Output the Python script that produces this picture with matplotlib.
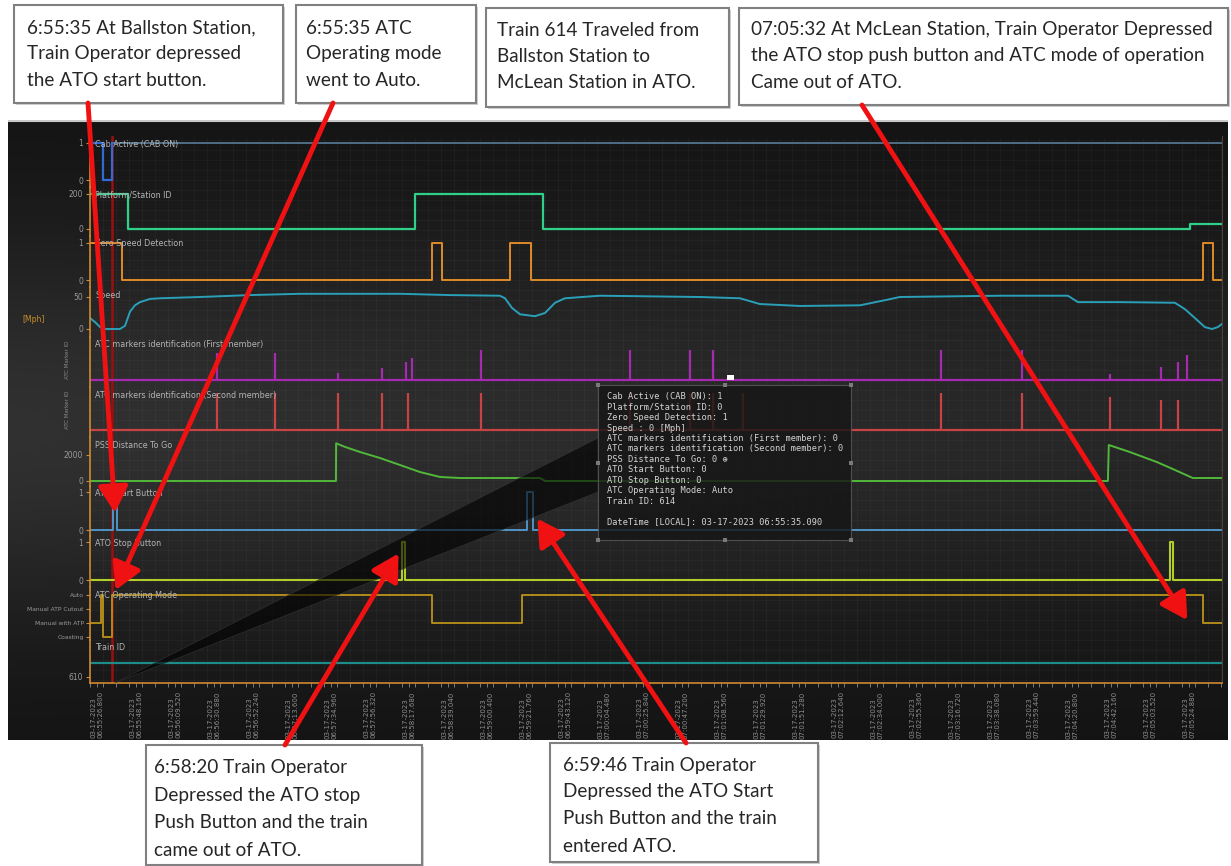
import numpy as np
import matplotlib.pyplot as plt
from matplotlib.patches import Rectangle, Polygon
from datetime import datetime, timedelta

plt.rcParams["font.family"] = ["DejaVu Sans"]

W, H = 1231, 866
START = datetime(2023, 3, 17, 6, 55, 23)
T_END = 620.0
CURSOR_T = 12.0

# signals, time in seconds after 06:55:23
cab_t = [0, 7.1, 12.0, 620]
cab_v = [1, 0, 1, 1]

station_t = [0, 20.8, 178.0, 248.1, 602.4, 620]
station_v = [200, 0, 200, 0, 28, 28]

zero_t = [0, 17.5, 187.3, 192.8, 230.0, 241.5, 609.5, 615.0, 620]
zero_v = [1, 0, 1, 0, 1, 0, 1, 0, 0]

speed_t = [0, 2.7, 5.5, 8.2, 16.4, 19.2, 21.9, 24.6, 27.4, 32.9, 38.3, 60.2, 87.6,
           115.0, 169.8, 197.2, 224.5, 227.3, 231.1, 235.5, 243.7, 249.2, 254.7,
           260.1, 279.3, 334.1, 356.0, 366.9, 388.8, 421.7, 435.4, 443.6, 498.4,
           535.6, 541.1, 564.1, 594.2, 599.7, 605.2, 610.6, 614.5, 617.7, 620]
speed_v = [17, 11, 3, 0, 0, 5, 27, 37, 42, 47, 48, 50, 53,
           55, 55, 53, 52, 48, 33, 23, 20, 25, 41,
           48, 52, 50, 48, 39, 36, 37, 45, 50, 52,
           52, 42, 42, 41, 31, 17, 3, 0, 3, 8]

marker1_t = [69.6, 101.3, 135.8, 159.9, 173.1, 176.3, 214.1, 295.7, 328.6, 341.2,
             466.0, 510.4, 558.6, 586.5, 595.8, 600.8]
marker1_v = [54, 54, 14, 24, 36, 44, 60, 60, 60, 60, 60, 60, 12, 26, 36, 50]

marker2_t = [69.6, 101.3, 135.8, 159.9, 174.2, 214.1, 295.7, 328.6, 341.2, 357.6,
             466.0, 510.4, 558.6, 586.5, 595.8]
marker2_v = [60, 60, 60, 60, 60, 60, 60, 60, 60, 60, 60, 60, 53, 49, 49]

pss_t = [0, 134.7, 134.8, 139.7, 147.9, 158.8, 169.8, 180.7, 191.7, 202.6, 246.4,
         249.2, 557.5, 558.0, 569.5, 584.3, 594.2, 604.0, 620]
pss_v = [0, 0, 2900, 2620, 2230, 1770, 1230, 690, 310, 230, 230,
         0, 0, 2770, 2230, 1460, 850, 230, 230]

start_t = [0, 12.6, 14.8, 239.3, 242.6, 620]
start_v = [0, 1, 0, 1, 0, 0]

stop_t = [0, 170.9, 172.5, 591.5, 593.1, 620]
stop_v = [0, 1, 0, 1, 0, 0]

mode_names = ["Coasting", "Manual with ATP", "Manual ATP Cutout", "Auto"]
mode_t = [0, 6.0, 7.1, 12.0, 187.3, 236.6, 609.5, 620]
mode_v = [1, 3, 0, 3, 1, 3, 1, 1]

train_t = [0, 620]
train_v = [614, 614]

tick_start, tick_step, n_ticks = 3.8, 21.36, 29

tooltip_lines = [
    "Cab Active (CAB ON): 1",
    "Platform/Station ID: 0",
    "Zero Speed Detection: 1",
    "Speed : 0 [Mph]",
    "ATC markers identification (First member): 0",
    "ATC markers identification (Second member): 0",
    "PSS Distance To Go: 0 \u2295",
    "ATO Start Button: 0",
    "ATO Stop Button: 0",
    "ATC Operating Mode: Auto",
    "Train ID: 614",
    "",
    "DateTime [LOCAL]: 03-17-2023 06:55:35.090",
]

# plot area in pixels
PL, PR = 90, 1222

fig = plt.figure(figsize=(W / 100, H / 100), dpi=100)
fig.patch.set_facecolor("white")


def px_box(x0, y0, x1, y1):
    return [x0 / W, 1 - y1 / H, (x1 - x0) / W, (y1 - y0) / H]


# dark screen background with a soft vertical glow
bg = fig.add_axes(px_box(8, 120, 1228, 740))
yy = np.linspace(0, 1, 200)[:, None]
xx = np.linspace(0, 1, 300)[None, :]
glow = np.exp(-((yy - 0.5) / 0.33) ** 2) * (1.0 - 0.35 * xx)
shade = 0.07 + 0.12 * glow
bg.imshow(np.dstack([shade, shade, shade]), aspect="auto", extent=(8, 1228, 740, 120))
bg.set_xlim(8, 1228)
bg.set_ylim(740, 120)
for gx in np.arange(PL, PR, 13):
    bg.plot([gx, gx], [138, 683], color="white", alpha=0.035, lw=0.6)
for gy in np.arange(140, 683, 10):
    bg.plot([PL, PR], [gy, gy], color="white", alpha=0.03, lw=0.6)
bg.plot([8, 1228], [120.5, 120.5], color="#c8c8c8", lw=1.5)
bg.axis("off")

tracks = [
    # title, band top/bottom px, (value, px) pairs, ticks, tick labels, colour
    ("Cab Active (CAB ON)", 136, 187, (1, 143), (0, 180), [0, 1], None, "#4f6f88"),
    ("Platform/Station ID", 187, 236, (200, 194), (0, 229), [0, 200], None, "#2fd08a"),
    ("Zero Speed Detection", 236, 287, (1, 243), (0, 280), [0, 1], None, "#e08a28"),
    ("Speed", 287, 337, (50, 297), (0, 329), [0, 50], None, "#2aa0b8"),
    ("ATC markers identification (First member)", 337, 387, (60, 350), (0, 380), [], None, "#a62ab0"),
    ("ATC markers identification (Second member)", 387, 437, (60, 393), (0, 430), [], None, "#c84444"),
    ("PSS Distance To Go", 437, 486, (2000, 455), (0, 481), [0, 2000], None, "#52b83a"),
    ("ATO Start Button", 486, 536, (1, 492), (0, 530), [0, 1], None, "#4f94c8"),
    ("ATO Stop Button", 536, 587, (1, 542), (0, 580), [0, 1], None, "#b2cc2a"),
    ("ATC Operating Mode", 587, 640, (3, 595), (1, 623), [0, 1, 2, 3], mode_names, "#b08a1a"),
    ("Train ID", 640, 683, (618, 649), (610, 677), [610], None, "#1f8c8c"),
]

axes = []
for title, top, bot, hi, lo, ticks, labels, color in tracks:
    ax = fig.add_axes(px_box(PL, top, PR, bot), facecolor="none")
    (vh, ph), (vl, pl) = hi, lo
    s = (pl - ph) / (vh - vl)
    ax.set_ylim(vl - (bot - pl) / s, vh + (ph - top) / s)
    ax.set_xlim(0, T_END)
    for side in ["top", "bottom"]:
        ax.spines[side].set_visible(False)
    ax.spines["left"].set_color("#d08a30")
    ax.spines["left"].set_linewidth(1.2)
    ax.spines["right"].set_color("#4a4038")
    ax.set_yticks(ticks)
    if labels is not None:
        ax.set_yticklabels(labels)
    ax.tick_params(axis="y", colors="#d08a30", labelcolor="#9a9a9a", labelsize=5.5,
                   length=3, width=0.8, pad=2)
    if labels is not None:
        ax.tick_params(axis="y", labelsize=4.3, pad=1.5)
    ax.tick_params(axis="x", bottom=False, labelbottom=False)
    ax.text(5 / (PR - PL), 1 - 8 / (bot - top), title, transform=ax.transAxes,
            fontsize=5.8, color="#b4b4b4", va="center", ha="left")
    ax.axvline(CURSOR_T, color="#9a1010", lw=1.8, zorder=1)
    axes.append(ax)

(ax_cab, ax_st, ax_zero, ax_speed, ax_m1, ax_m2, ax_pss,
 ax_start, ax_stop, ax_mode, ax_train) = axes

ax_cab.step(cab_t, cab_v, where="post", color="#4f6f88", lw=1.4)
ax_cab.step(cab_t[:3], cab_v[:3], where="post", color="#2f6ad8", lw=1.6)
ax_st.step(station_t, station_v, where="post", color="#2fd08a", lw=1.6)
ax_zero.step(zero_t, zero_v, where="post", color="#e08a28", lw=1.4)
ax_speed.plot(speed_t, speed_v, color="#2aa0b8", lw=1.4)
ax_m1.plot([0, T_END], [0, 0], color="#a62ab0", lw=1.6)
ax_m1.vlines(marker1_t, 0, marker1_v, color="#a62ab0", lw=1.6)
ax_m2.plot([0, T_END], [0, 0], color="#c84444", lw=1.6)
ax_m2.vlines(marker2_t, 0, marker2_v, color="#c84444", lw=1.6)
ax_pss.plot(pss_t, pss_v, color="#52b83a", lw=1.4)
ax_start.step(start_t, start_v, where="post", color="#4f94c8", lw=1.4)
ax_stop.step(stop_t, stop_v, where="post", color="#b2cc2a", lw=1.5)
ax_mode.step(mode_t, mode_v, where="post", color="#b08a1a", lw=1.4)
ax_train.plot(train_t, train_v, color="#1f8c8c", lw=1.6)

ax_m1.set_ylabel("ATC Marker ID", fontsize=4, color="#8a8a8a")
ax_m1.yaxis.set_label_coords(-0.018, 0.55)
ax_m2.set_ylabel("ATC Marker ID", fontsize=4, color="#8a8a8a")
ax_m2.yaxis.set_label_coords(-0.018, 0.55)

# time axis on the bottom track
ax_train.spines["bottom"].set_visible(True)
ax_train.spines["bottom"].set_color("#d08a30")
ax_train.spines["bottom"].set_linewidth(1.2)
ticks = tick_start + tick_step * np.arange(n_ticks)
ax_train.set_xticks(ticks)
ax_train.set_xticks(np.arange(0, T_END, tick_step / 3), minor=True)
ax_train.set_xticklabels(
    [(START + timedelta(seconds=float(t))).strftime("%m-%d-%Y\n%H:%M:%S.%f")[:-3] for t in ticks],
    rotation=90, multialignment="left")
ax_train.tick_params(axis="x", which="both", bottom=True, labelbottom=True, colors="#8a8a8a",
                     labelcolor="#8e8e8e", labelsize=5, length=3, width=0.6, pad=3)

# overlay in pixel coordinates for callouts
ov = fig.add_axes([0, 0, 1, 1], facecolor="none", zorder=10)
ov.set_xlim(0, W)
ov.set_ylim(H, 0)
ov.axis("off")

ov.text(22, 320, "[Mph]", fontsize=5.5, color="#c8902a", va="center")

# tooltip shadow wedge back to the cursor
ov.add_patch(Polygon([(115, 683), (598, 438), (598, 492)], closed=True,
                     fc="black", ec="#3a3a3a", lw=0.6, alpha=0.6, zorder=1))

# tooltip
ov.add_patch(Rectangle((598, 385), 253, 155, fc="#161616", ec="#5a5a5a", lw=0.8,
                       alpha=0.82, zorder=2))
for hx in [598, 724.5, 851]:
    for hy in [385, 462.5, 540]:
        if hx == 724.5 and hy == 462.5:
            continue
        ov.add_patch(Rectangle((hx - 2, hy - 2), 4, 4, fc="#7a7a7a", ec="none", zorder=3))
ov.add_patch(Rectangle((727, 375), 7, 5, fc="white", ec="none", zorder=3))
for i, line in enumerate(tooltip_lines):
    ov.text(607, 397 + i * 10.4, line, family=["DejaVu Sans Mono"], fontsize=6.2,
            color="#d4d4d4", va="center", ha="left", zorder=4)

# callout boxes
boxes = [
    ((14, 5, 283, 103), 27, [28, 54, 80],
     ["6:55:35 At Ballston Station,", "Train Operator depressed", "the ATO start button."]),
    ((296, 5, 476, 103), 306, [28, 54, 80],
     ["6:55:35 ATC", "Operating mode", "went to Auto."]),
    ((486, 8, 729, 107), 497, [30, 56, 83],
     ["Train 614 Traveled from", "Ballston Station to", "McLean Station in ATO."]),
    ((739, 8, 1228, 105), 751, [30, 56, 83],
     ["07:05:32 At McLean Station, Train Operator Depressed",
      "the ATO stop push button and ATC mode of operation", "Came out of ATO."]),
    ((146, 745, 422, 865), 154, [768, 796, 823, 851],
     ["6:58:20 Train Operator", "Depressed the ATO stop", "Push Button and the train",
      "came out of ATO."]),
    ((550, 743, 818, 862), 563, [765, 792, 819, 846],
     ["6:59:46 Train Operator", "Depressed the ATO Start", "Push Button and the train",
      "entered ATO."]),
]
for (x0, y0, x1, y1), tx, tys, lines in boxes:
    ov.add_patch(Rectangle((x0 + 2, y0 + 2), x1 - x0, y1 - y0, fc="#cfcfcf", ec="none", zorder=5))
    ov.add_patch(Rectangle((x0, y0), x1 - x0, y1 - y0, fc="white", ec="#808080", lw=1.5, zorder=6))
    for ty, line in zip(tys, lines):
        ov.text(tx, ty, line, family=["Lato", "DejaVu Sans"], fontsize=13.6, color="#262626",
                va="center", ha="left", zorder=7)

# red arrows from callouts to the events
arrows = [
    ((88, 103), ax_start, (13.7, 0.45)),
    ((333, 103), ax_mode, (14.0, 3.35)),
    ((862, 105), ax_mode, (601.0, 1.2)),
    ((285, 745), ax_stop, (169.0, 0.7)),
    ((686, 743), ax_start, (245.0, 0.3)),
]
for src, ax, (t, v) in arrows:
    tip = ov.transData.inverted().transform(ax.transData.transform((t, v)))
    ov.annotate("", xy=tip, xytext=src, zorder=8,
                arrowprops=dict(arrowstyle="-|>,head_length=0.8,head_width=0.45",
                                color="#f01212", lw=3.5, mutation_scale=20,
                                shrinkA=0, shrinkB=0))

fig.savefig("out.png", dpi=100)
